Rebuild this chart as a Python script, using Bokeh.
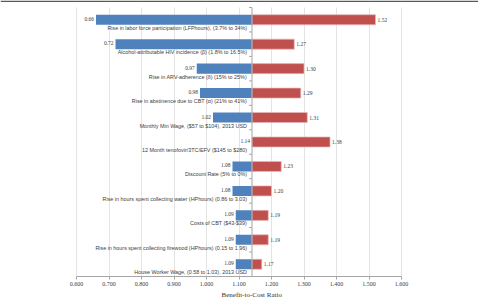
from bokeh.plotting import figure
from bokeh.models import (Range1d, Span, Title, NumeralTickFormatter, FixedTicker,
                          ColumnDataSource)
from bokeh.embed import file_html
from bokeh.resources import INLINE
from bokeh.core.properties import value
import numpy as np

# One-way sensitivity analysis (tornado) of the benefit-to-cost ratio
categories = [
    "Rise in labor force participation (LFPhours), (3.7% to 34%)",
    "Alcohol-attributable HIV incidence (\u03b2) (1.8% to 16.5%)",
    "Rise in ARV-adherence (\u03b4) (15% to 25%)",
    "Rise in abstinence due to CBT (\u03b1) (21% to 41%)",
    "Monthly Min Wage, ($57 to $104), 2013 USD",
    "12 Month tenofovir/3TC/EFV ($145 to $280)",
    "Discount Rate (5% to 0%)",
    "Rise in hours spent collecting water (HPhours) (0.86 to 3.03)",
    "Costs of CBT ($43-$39)",
    "Rise in hours spent collecting firewood (HPhours) (0.15 to 1.96)",
    "House Worker Wage, (0.58 to 1.03), 2013 USD",
]
low_values = [0.66, 0.72, 0.97, 0.98, 1.02, 1.14, 1.08, 1.08, 1.09, 1.09, 1.09]
high_values = [1.52, 1.27, 1.30, 1.29, 1.31, 1.38, 1.23, 1.20, 1.19, 1.19, 1.17]
base_ratio = 1.14
x_ticks = [0.6, 0.7, 0.8, 0.9, 1.0, 1.1, 1.2, 1.3, 1.4, 1.5, 1.6]

n = len(categories)
rows = [i + 0.5 for i in range(n)]

src = ColumnDataSource(dict(
    cat=categories, y=rows, low=low_values, high=high_values,
    base=[base_ratio] * n,
    low_txt=[f"{v:.2f}" for v in low_values],
    high_txt=[f"{v:.2f}" for v in high_values],
))

# The frame fills the canvas width; the value axis itself is bounded to 0.6-1.6
# and the side margins come from the extra range on either side.
W, H = 478, 298
axis_left_px, axis_right_px = 76, 401
px_per_unit = (axis_right_px - axis_left_px) / (x_ticks[-1] - x_ticks[0])
x_lo = x_ticks[0] - axis_left_px / px_per_unit
x_hi = x_ticks[-1] + (W - axis_right_px) / px_per_unit
top_pad = 0.286  # blank strip above the first row, in row units

p = figure(width=W, height=H, x_range=Range1d(x_lo, x_hi),
           y_range=Range1d(n, -top_pad), output_backend="svg",
           toolbar_location=None, min_border_left=0, min_border_right=0,
           min_border_top=0, min_border_bottom=22)
p.outline_line_color = None
p.background_fill_color = "white"
p.border_fill_color = "white"

p.yaxis.visible = False
p.ygrid.visible = False
p.xgrid.ticker = FixedTicker(ticks=x_ticks)
p.xgrid.grid_line_color = "#e4e4e4"
p.xgrid.grid_line_width = 1
p.xgrid.cross_bounds = (0, n)

xa = p.xaxis[0]
xa.ticker = FixedTicker(ticks=x_ticks)
xa.bounds = (x_ticks[0], x_ticks[-1])
xa.formatter = NumeralTickFormatter(format="0.000")
xa.axis_line_color = "#a6a6a6"
xa.major_tick_line_color = "#a6a6a6"
xa.major_tick_out = 3
xa.major_tick_in = 0
xa.minor_tick_line_color = None
xa.major_label_standoff = 2
xa.major_label_text_font = "Liberation Serif"
xa.major_label_text_font_size = "6px"
xa.major_label_text_color = "#404040"

# axis title under the tick labels
p.add_layout(Title(text="Benefit-to-Cost Ratio", align="left", offset=221,
                   standoff=0, text_font="Liberation Serif", text_font_size="7px",
                   text_font_style="normal", text_color="#333333"), "below")

# rule along the top edge of the figure, kept just inside the frame
p.add_layout(Span(location=-top_pad + 0.03, dimension="width",
                  line_color="#595959", line_width=1.6))

# bars either side of the base-case ratio
p.hbar(y="y", left="low", right="base", height=0.41, source=src,
       fill_color="#4F81BD", line_color=None)
p.hbar(y="y", left="base", right="high", height=0.41, source=src,
       fill_color="#C0504D", line_color="#E6B9B8", line_width=0.7)

# category axis crossing at the base case, with ticks between the rows
p.segment(x0=[base_ratio], y0=[0], x1=[base_ratio], y1=[n],
          line_color="#a6a6a6", line_width=1)
p.ray(x=[base_ratio] * (n + 1), y=list(range(n + 1)), length=3,
      length_units="screen", angle=np.pi, line_color="#a6a6a6", line_width=1)

p.text(x="base", y="y", text="cat", source=src, x_offset=-5, y_offset=8,
       text_align="right", text_baseline="middle",
       text_font=value("Liberation Sans"), text_font_size="5.4px",
       text_color="#404040")
p.text(x="low", y="y", text="low_txt", source=src, x_offset=-2, y_offset=-1,
       text_align="right", text_baseline="middle",
       text_font=value("Liberation Serif"), text_font_size="5.5px",
       text_color="#404040")
p.text(x="high", y="y", text="high_txt", source=src, x_offset=2,
       text_align="left", text_baseline="middle",
       text_font=value("Liberation Serif"), text_font_size="5.5px",
       text_color="#404040")

open("out.html", "w").write(file_html(p, INLINE))
